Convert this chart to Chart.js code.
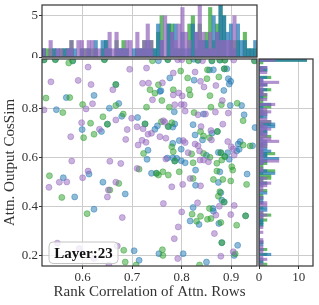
<!DOCTYPE html>
<html lang="en">
<head>
<meta charset="UTF-8" />
<title>Layer 23 - rank correlation vs output cosine similarity</title>
<script src="https://cdn.jsdelivr.net/npm/chart.js"></script>
<style>
  html, body { margin: 0; padding: 0; background: #fff; }
  #wrap { position: relative; width: 319px; height: 305px; overflow: hidden; }
  #wrap canvas { position: absolute; }
  #topHist { left: 0; top: 0; }
  #scatter { left: 0; top: 58px; }
  #sideHist { left: 250px; top: 58px; }
</style>
</head>
<body>
<div id="wrap">
  <canvas id="topHist" width="259" height="58"></canvas>
  <canvas id="scatter" width="259" height="247"></canvas>
  <canvas id="sideHist" width="69" height="247"></canvas>
</div>
<script>
// [rank correlation, output cos sim] per point
const blueSeries = [
  [0.522,0.997],[0.545,0.998],[0.580,0.992],[0.644,0.998],[0.667,0.896],[0.567,0.843],[0.623,0.852],[0.673,0.819],
  [0.654,0.800],[0.547,0.794],[0.679,0.767],[0.711,0.762],[0.650,0.735],[0.726,0.736],[0.638,0.705],[0.599,0.713],
  [0.732,0.629],[0.730,0.592],[0.561,0.517],[0.613,0.532],[0.641,0.499],[0.584,0.439],[0.686,0.451],[0.623,0.389],
  [0.704,0.220],[0.714,0.181],[0.754,0.208],[0.756,0.868],[0.885,0.872],[0.785,0.785],[0.898,0.811],[0.921,0.811],
  [0.926,0.773],[0.844,0.776],[0.786,0.736],[0.773,0.725],[0.782,0.723],[0.746,0.714],[0.751,0.728],[0.823,0.733],
  [0.861,0.698],[0.872,0.705],[0.827,0.691],[0.842,0.671],[0.782,0.657],[0.795,0.668],[0.918,0.664],[0.914,0.654],
  [0.943,0.647],[0.911,0.626],[0.916,0.633],[0.893,0.619],[0.879,0.619],[0.874,0.620],[0.887,0.603],[0.799,0.633],
  [0.850,0.608],[0.771,0.597],[0.782,0.598],[0.790,0.596],[0.786,0.585],[0.799,0.586],[0.807,0.578],[0.896,0.592],
  [0.877,0.541],[0.828,0.548],[0.749,0.535],[0.874,0.498],[0.932,0.532],[0.828,0.486],[0.739,0.535],[0.881,0.426],
  [0.948,0.721],[0.753,0.993],[0.772,0.997],[0.824,0.999],[0.833,0.994],[0.861,0.992],[0.856,0.955],[0.864,0.956],
  [0.877,0.995],[0.887,0.996],[0.886,0.960],[0.891,0.960],[0.825,0.914],[0.894,0.920],[0.899,0.909],[0.896,0.898],
  [0.776,0.923],[0.758,0.871],[0.947,0.994],[0.879,0.456],[0.886,0.418],[0.823,0.396],[0.863,0.392],[0.864,0.381],
  [0.929,0.362],[0.817,0.341],[0.835,0.327],[0.875,0.331],[0.881,0.253],[0.913,0.242],[0.803,0.208],[0.906,0.201],
  [0.850,0.174]
];
const greenSeries = [
  [0.572,0.984],[0.644,0.997],[0.667,0.896],[0.526,0.841],[0.574,0.843],[0.600,0.815],[0.667,0.811],[0.729,0.804],
  [0.560,0.782],[0.682,0.776],[0.641,0.765],[0.650,0.735],[0.616,0.739],[0.726,0.736],[0.623,0.694],[0.602,0.680],
  [0.723,0.616],[0.714,0.552],[0.753,0.528],[0.533,0.525],[0.673,0.494],[0.558,0.437],[0.655,0.467],[0.609,0.371],
  [0.683,0.222],[0.686,0.174],[0.708,0.162],[0.746,0.861],[0.817,0.854],[0.857,0.851],[0.760,0.831],[0.775,0.804],
  [0.859,0.804],[0.880,0.814],[0.912,0.820],[0.924,0.749],[0.825,0.782],[0.759,0.745],[0.780,0.741],[0.773,0.725],
  [0.838,0.705],[0.872,0.705],[0.856,0.680],[0.844,0.687],[0.924,0.650],[0.938,0.646],[0.879,0.619],[0.887,0.603],
  [0.780,0.643],[0.783,0.623],[0.844,0.616],[0.857,0.600],[0.820,0.614],[0.786,0.585],[0.823,0.578],[0.871,0.576],
  [0.881,0.589],[0.901,0.562],[0.903,0.548],[0.871,0.544],[0.795,0.541],[0.773,0.528],[0.749,0.535],[0.762,0.541],
  [0.823,0.514],[0.864,0.510],[0.883,0.510],[0.899,0.504],[0.931,0.490],[0.877,0.460],[0.874,0.442],[0.741,0.993],
  [0.815,0.992],[0.852,0.956],[0.886,0.960],[0.798,0.951],[0.812,0.923],[0.851,0.920],[0.875,0.927],[0.753,0.895],
  [0.783,0.875],[0.815,0.875],[0.736,0.875],[0.885,0.418],[0.856,0.392],[0.821,0.369],[0.838,0.360],[0.929,0.362],
  [0.830,0.340],[0.852,0.348],[0.859,0.351],[0.879,0.335],[0.911,0.324],[0.881,0.253],[0.761,0.224],[0.762,0.201],
  [0.908,0.208],[0.836,0.162],[0.522,0.996],[0.545,0.997],[0.580,0.994],[0.772,0.998],[0.833,0.996],[0.861,0.994],
  [0.877,0.997],[0.887,0.995],[0.947,0.992]
];
const purpleSeries = [
  [0.611,0.967],[0.695,0.958],[0.729,0.963],[0.536,0.907],[0.591,0.913],[0.617,0.896],[0.721,0.901],[0.661,0.875],
  [0.620,0.818],[0.607,0.797],[0.522,0.793],[0.699,0.759],[0.667,0.752],[0.598,0.741],[0.710,0.724],[0.722,0.716],
  [0.634,0.714],[0.690,0.713],[0.732,0.694],[0.576,0.684],[0.687,0.673],[0.720,0.669],[0.728,0.661],[0.712,0.650],
  [0.578,0.585],[0.655,0.584],[0.677,0.575],[0.710,0.555],[0.611,0.544],[0.600,0.517],[0.553,0.499],[0.568,0.500],
  [0.667,0.499],[0.532,0.478],[0.652,0.467],[0.650,0.439],[0.680,0.355],[0.549,0.251],[0.593,0.229],[0.623,0.188],
  [0.670,0.239],[0.653,0.162],[0.783,0.854],[0.794,0.862],[0.801,0.850],[0.882,0.831],[0.741,0.834],[0.786,0.814],
  [0.799,0.815],[0.805,0.814],[0.807,0.788],[0.868,0.784],[0.894,0.780],[0.833,0.773],[0.848,0.776],[0.763,0.749],
  [0.766,0.743],[0.756,0.684],[0.739,0.698],[0.839,0.725],[0.859,0.709],[0.883,0.735],[0.860,0.671],[0.768,0.678],
  [0.803,0.668],[0.807,0.660],[0.827,0.654],[0.893,0.664],[0.900,0.643],[0.904,0.634],[0.906,0.609],[0.833,0.647],
  [0.836,0.626],[0.813,0.619],[0.768,0.593],[0.837,0.589],[0.844,0.589],[0.854,0.582],[0.817,0.514],[0.838,0.484],
  [0.802,0.490],[0.780,0.480],[0.792,0.997],[0.800,0.997],[0.842,0.993],[0.783,0.943],[0.827,0.947],[0.838,0.909],
  [0.761,0.903],[0.733,0.902],[0.845,0.886],[0.869,0.892],[0.763,0.412],[0.832,0.415],[0.876,0.401],[0.906,0.404],
  [0.800,0.378],[0.869,0.365],[0.899,0.367],[0.793,0.317],[0.866,0.290],[0.785,0.269],[0.904,0.216],[0.792,0.188],
  [0.879,0.198],[0.905,0.996]
];

const xTicks = [0.6, 0.7, 0.8, 0.9];
const yTicks = [0.2, 0.4, 0.6, 0.8];
const topCountTicks = [0, 5];
const sideCountTicks = [0, 10];
const xLabel = 'Rank Correlation of Attn. Rows';
const yLabel = 'Attn. Output CosSim';
const badgeText = 'Layer:23';

const xRange = [0.518, 0.952];
const yRange = [0.158, 1.0];
const xBins = { start: 0.518, width: 0.007, count: 62 };
const yBins = { start: 0.15, width: 0.01, count: 85 };

const colors = {
  blue: [31, 119, 180],
  green: [44, 160, 44],
  purple: [148, 103, 189]
};
const rgba = (c, a) => `rgba(${c[0]},${c[1]},${c[2]},${a})`;

Chart.defaults.font.family = "'Liberation Serif', 'Times New Roman', serif";
Chart.defaults.color = '#333';
Chart.defaults.animation = false;
Chart.defaults.plugins.legend.display = false;
Chart.defaults.plugins.tooltip.enabled = false;

const GRID = '#cccccc';
const SPINE = '#333333';

// spines on all four sides
const frame = {
  id: 'frame',
  afterDatasetsDraw(chart) {
    const { ctx, chartArea: a } = chart;
    ctx.save();
    ctx.strokeStyle = SPINE;
    ctx.lineWidth = 1.2;
    ctx.strokeRect(a.left, a.top, a.right - a.left, a.bottom - a.top);
    ctx.restore();
  }
};

const badge = {
  id: 'badge',
  afterDatasetsDraw(chart) {
    const { ctx, chartArea: a } = chart;
    const x = a.left + 7, y = a.bottom - 24, w = 69, h = 21.5;
    ctx.save();
    ctx.beginPath();
    ctx.roundRect(x, y, w, h, 4);
    ctx.fillStyle = 'rgba(255,255,255,0.8)';
    ctx.fill();
    ctx.strokeStyle = '#c4c4c4';
    ctx.lineWidth = 1;
    ctx.stroke();
    ctx.font = "bold 15px 'Liberation Serif', serif";
    ctx.fillStyle = '#111';
    ctx.textAlign = 'center';
    ctx.textBaseline = 'middle';
    ctx.fillText(badgeText, x + w / 2, y + h / 2 + 1);
    ctx.restore();
  }
};

function countBins(values, bins) {
  const counts = new Array(bins.count).fill(0);
  values.forEach(v => {
    let i = Math.floor((v - bins.start) / bins.width + 1e-9);
    if (i >= bins.count) i = bins.count - 1;
    if (i >= 0) counts[i]++;
  });
  return counts;
}

function fixTicks(list) {
  return scale => { scale.ticks = list.map(v => ({ value: v })); };
}

// pin an axis box to a fixed size and drop the label overflow padding
function pin(prop, size) {
  return s => {
    s[prop] = size;
    s.paddingTop = 0; s.paddingBottom = 0; s.paddingLeft = 0; s.paddingRight = 0;
  };
}

const tickFont = { size: 13 };
const titleFont = { size: 15 };

// ---------- main scatter ----------
function scatterSet(series, col, order) {
  return {
    data: series.map(p => ({ x: p[0], y: p[1] })),
    backgroundColor: rgba(col, 0.5),
    borderColor: rgba(col, 0.45),
    borderWidth: 1,
    pointRadius: 3,
    clip: 0,
    order: order
  };
}

new Chart(document.getElementById('scatter'), {
  type: 'scatter',
  data: {
    datasets: [
      scatterSet(purpleSeries, colors.purple, 0),
      scatterSet(greenSeries, colors.green, 1),
      scatterSet(blueSeries, colors.blue, 2)
    ]
  },
  options: {
    responsive: false,
    layout: { padding: { top: 1, right: 2, left: 0, bottom: 0 }, autoPadding: false },
    scales: {
      x: {
        type: 'linear', min: xRange[0], max: xRange[1],
        afterBuildTicks: fixTicks(xTicks),
        afterFit: pin('height', 39),
        border: { display: false },
        grid: { color: GRID, lineWidth: 1, tickLength: 3, tickColor: SPINE },
        ticks: { font: tickFont, padding: 1, callback: v => v.toFixed(1), maxRotation: 0 },
        title: { display: true, text: xLabel, font: titleFont, color: '#333', padding: { top: 0, bottom: 4 } }
      },
      y: {
        type: 'linear', min: yRange[0], max: yRange[1],
        afterBuildTicks: fixTicks(yTicks),
        afterFit: pin('width', 42),
        border: { display: false },
        grid: { color: GRID, lineWidth: 1, tickLength: 3, tickColor: SPINE },
        ticks: { font: tickFont, padding: 1, callback: v => v.toFixed(1) },
        title: { display: true, text: yLabel, font: titleFont, color: '#333', padding: { top: 1, bottom: 0 } }
      }
    }
  },
  plugins: [frame, badge]
});

// ---------- top histogram ----------
function xHistSet(series, col, order) {
  const counts = countBins(series.map(p => p[0]), xBins);
  return {
    data: counts.map((c, i) => ({ x: xBins.start + xBins.width * (i + 0.5), y: c })),
    backgroundColor: rgba(col, 0.72),
    borderWidth: 0,
    barPercentage: 1,
    categoryPercentage: 1,
    grouped: false,
    order: order
  };
}

new Chart(document.getElementById('topHist'), {
  type: 'bar',
  data: {
    datasets: [
      xHistSet(purpleSeries, colors.purple, 0),
      xHistSet(blueSeries, colors.blue, 1),
      xHistSet(greenSeries, colors.green, 2)
    ]
  },
  options: {
    responsive: false,
    layout: { padding: { top: 5, right: 2, left: 0, bottom: 1 }, autoPadding: false },
    scales: {
      x: {
        type: 'linear', min: xRange[0], max: xRange[1], offset: false,
        afterBuildTicks: fixTicks(xTicks),
        afterFit: pin('height', 0),
        border: { display: false },
        grid: { color: GRID, lineWidth: 1, drawTicks: false, offset: false },
        ticks: { display: false }
      },
      y: {
        type: 'linear', min: 0, max: 6.3,
        afterBuildTicks: fixTicks(topCountTicks),
        afterFit: pin('width', 42),
        border: { display: false },
        grid: { color: GRID, lineWidth: 1, tickLength: 3, tickColor: SPINE },
        ticks: { font: tickFont, padding: 1 }
      }
    }
  },
  plugins: [frame]
});

// ---------- right histogram ----------
function yHistSet(series, col, order) {
  const counts = countBins(series.map(p => p[1]), yBins);
  return {
    data: counts.map((c, i) => ({ y: yBins.start + yBins.width * (i + 0.5), x: c })),
    backgroundColor: rgba(col, 0.72),
    borderWidth: 0,
    barPercentage: 1,
    categoryPercentage: 1,
    grouped: false,
    order: order
  };
}

new Chart(document.getElementById('sideHist'), {
  type: 'bar',
  data: {
    datasets: [
      yHistSet(purpleSeries, colors.purple, 0),
      yHistSet(blueSeries, colors.blue, 1),
      yHistSet(greenSeries, colors.green, 2)
    ]
  },
  options: {
    responsive: false,
    indexAxis: 'y',
    layout: { padding: { top: 1, right: 6, left: 9, bottom: 0 }, autoPadding: false },
    scales: {
      x: {
        type: 'linear', min: 0, max: 13.6,
        afterBuildTicks: fixTicks(sideCountTicks),
        afterFit: pin('height', 39),
        border: { display: false },
        grid: { color: GRID, lineWidth: 1, tickLength: 3, tickColor: SPINE },
        ticks: { font: tickFont, padding: 1, maxRotation: 0 }
      },
      y: {
        type: 'linear', min: yRange[0], max: yRange[1], offset: false,
        afterBuildTicks: fixTicks(yTicks),
        afterFit: pin('width', 0),
        border: { display: false },
        grid: { color: GRID, lineWidth: 1, drawTicks: false, offset: false },
        ticks: { display: false }
      }
    }
  },
  plugins: [frame]
});
</script>
</body>
</html>
